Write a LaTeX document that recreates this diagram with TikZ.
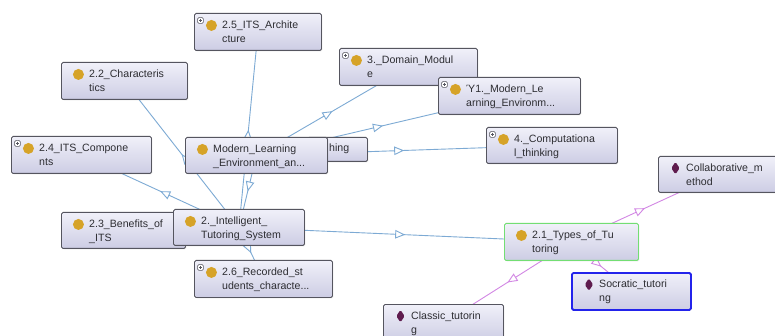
\documentclass[tikz,border=0pt]{standalone}
\usepackage{fontspec}
\setmainfont{Liberation Sans}
\usetikzlibrary{positioning,arrows.meta,decorations.markings,backgrounds,shadows}

\definecolor{boxtop}{RGB}{240,240,249}
\definecolor{boxbot}{RGB}{205,205,228}
\definecolor{boxline}{RGB}{85,85,95}
\definecolor{textgray}{RGB}{45,45,50}
\definecolor{clsgold}{RGB}{214,163,40}
\definecolor{indpurple}{RGB}{95,28,78}
\definecolor{isablue}{RGB}{125,170,212}
\definecolor{typeviolet}{RGB}{210,135,228}
\definecolor{selgreen}{RGB}{115,222,115}
\definecolor{selblue}{RGB}{35,35,235}

% icons drawn inside the boxes
\newcommand{\clsicon}{\fill[clsgold] ([xshift=17pt,yshift=-12pt]path picture bounding box.north west) circle (5.5pt);}
\newcommand{\indicon}{\fill[indpurple] ([xshift=17pt,yshift=-5.5pt]path picture bounding box.north west) -- ++(4.2pt,-6.2pt) -- ++(-4.2pt,-6.2pt) -- ++(-4.2pt,6.2pt) -- cycle;}
\newcommand{\plusicon}{%
  \draw[boxline, line width=0.5pt, fill=white] ([xshift=3pt,yshift=-4pt]path picture bounding box.north west) rectangle ++(6pt,-6pt);
  \draw[boxline, line width=0.6pt] ([xshift=4.3pt,yshift=-7pt]path picture bounding box.north west) -- ++(3.4pt,0pt);
  \draw[boxline, line width=0.6pt] ([xshift=6pt,yshift=-5.3pt]path picture bounding box.north west) -- ++(0pt,-3.4pt);}

\begin{document}
\begin{tikzpicture}[
    x=1pt, y=-1pt,
    box/.style={anchor=north west, rounded corners=1.5pt, draw=boxline, line width=0.9pt,
      top color=boxtop, bottom color=boxbot, minimum height=37pt, inner sep=0pt,
      drop shadow={opacity=0.18, shadow xshift=1pt, shadow yshift=-1pt}},
    cls/.style={box, path picture={\clsicon}},
    clsplus/.style={box, path picture={\clsicon\plusicon}},
    ind/.style={box, path picture={\indicon}},
    lbl/.style={anchor=north west, inner sep=0pt, align=left, text=textgray,
      font=\fontsize{10.6}{14}\selectfont},
    isa/.style={draw=isablue, line width=0.9pt, postaction={decorate},
      decoration={markings, mark=at position 0.5 with {\arrow{Triangle[length=10pt, width=8.5pt, fill=white]}}}},
    inst/.style={isa, draw=typeviolet}
  ]
    \useasboundingbox (0,0) rectangle (775,336);

    % classes
    \node[clsplus, minimum width=127pt] (arch) at (194,13) {};
    \node[lbl] (arch-t) at ([shift={(28,8)}]arch.north west) {2.5\_ITS\_Archite\\cture};
    \node[cls, minimum width=126pt] (charac) at (61,62) {};
    \node[lbl] (charac-t) at ([shift={(28,8)}]charac.north west) {2.2\_Characteris\\tics};
    \node[clsplus, minimum width=138pt] (domain) at (339,48) {};
    \node[lbl] (domain-t) at ([shift={(28,8)}]domain.north west) {3.\_Domain\_Modul\\e};
    \node[clsplus, minimum width=142pt] (mle1) at (438,77) {};
    \node[lbl] (mle1-t) at ([shift={(28,8)}]mle1.north west) {Ύ1.\_Modern\_Le\\arning\_Environm...};
    \node[clsplus, minimum width=131pt, minimum height=36pt] (comp) at (486,127) {};
    \node[lbl] (comp-t) at ([shift={(28,8)}]comp.north west) {4.\_Computationa\\l\_thinking};
    \node[clsplus, minimum width=140pt] (comps) at (11,136) {};
    \node[lbl] (comps-t) at ([shift={(28,8)}]comps.north west) {2.4\_ITS\_Compone\\nts};

    \node[box, minimum width=60pt, minimum height=24pt] (hidden) at (307,137) {};
    \node[lbl] (hidden-t) at ([shift={(22,7)}]hidden.north west) {hing};
    \node[cls, minimum width=142pt, minimum height=36pt] (modern) at (185,137) {};
    \node[lbl] (modern-t) at ([shift={(28,8)}]modern.north west) {Modern\_Learning\\\_Environment\_an...};

    \node[cls, minimum width=124pt, minimum height=36pt] (benefits) at (61,212) {};
    \node[lbl] (benefits-t) at ([shift={(28,8)}]benefits.north west) {2.3\_Benefits\_of\\\_ITS};
    \node[cls, minimum width=131pt, minimum height=36pt] (its) at (173,209) {};
    \node[lbl] (its-t) at ([shift={(28,8)}]its.north west) {2.\_Intelligent\_\\Tutoring\_System};
    \node[clsplus, minimum width=138pt] (recorded) at (194,260) {};
    \node[lbl] (recorded-t) at ([shift={(28,8)}]recorded.north west) {2.6\_Recorded\_st\\udents\_characte...};

    \node[cls, draw=selgreen, minimum width=134pt] (types) at (504,223) {};
    \node[lbl] (types-t) at ([shift={(28,8)}]types.north west) {2.1\_Types\_of\_Tu\\toring};

    % individuals
    \node[ind, minimum width=120pt, minimum height=36pt] (collab) at (658,156) {};
    \node[lbl] (collab-t) at ([shift={(28,8)}]collab.north west) {Collaborative\_m\\ethod};
    \node[ind, draw=selblue, line width=1.8pt, minimum width=119pt] (socratic) at (571,272) {};
    \node[lbl] (socratic-t) at ([shift={(28,8)}]socratic.north west) {Socratic\_tutori\\ng};
    \node[ind, minimum width=120pt] (classic) at (383,304) {};
    \node[lbl] (classic-t) at ([shift={(28,8)}]classic.north west) {Classic\_tutorin\\g};

    \begin{scope}[on background layer]
      \fill[white] (0,0) rectangle (775,336);
      \draw[isa] (its.center) -- (arch.center);
      \draw[isa] (its.center) -- (charac.center);
      \draw[isa] (its.center) -- (comps.center);
      \draw[isa] (its.center) -- (benefits.center);
      \draw[isa] (its.center) -- (recorded.center);
      \draw[isa] (its.center) -- (types.center);
      \draw[isa] (modern.center) -- (its.center);
      \draw[isa] (modern.center) -- (domain.center);
      \draw[isa] (modern.center) -- (mle1.center);
      \draw[isa] (modern.center) -- (comp.center);
      \draw[inst] (types.center) -- (collab.center);
      \draw[inst] (types.center) -- (socratic.center);
      \draw[inst] (types.center) -- (classic.center);
    \end{scope}
\end{tikzpicture}
\end{document}
